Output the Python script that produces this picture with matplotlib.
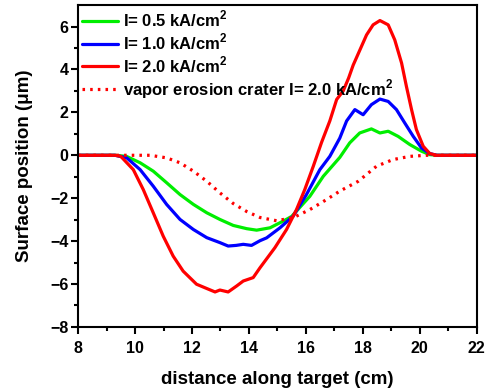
import matplotlib
matplotlib.use("Agg")
import matplotlib.pyplot as plt
import numpy as np

plt.rcParams['font.family'] = ['Liberation Sans', 'DejaVu Sans']
plt.rcParams['font.weight'] = 'bold'
plt.rcParams['mathtext.fontset'] = 'custom'
plt.rcParams['mathtext.rm'] = 'Liberation Sans:bold'
plt.rcParams['mathtext.bf'] = 'Liberation Sans:bold'

# I = 0.5 kA/cm2 (green)
x_g = [8, 9.3, 9.7, 10.18, 10.64, 11.11, 11.58, 12.05, 12.52, 12.98, 13.45, 13.92, 14.27, 14.74, 15.2,
       15.5, 15.67, 16.14, 16.61, 17.19, 17.54, 17.89, 18.3, 18.6, 18.89, 19.24, 19.65, 20.06, 20.35, 20.6, 22]
y_g = [0, 0, -0.05, -0.35, -0.74, -1.28, -1.83, -2.29, -2.68, -2.99, -3.27, -3.42, -3.49, -3.38, -3.07,
       -2.85, -2.6, -1.91, -0.98, -0.1, 0.58, 1.04, 1.23, 1.04, 1.12, 0.88, 0.5, 0.19, 0.03, 0, 0]

# I = 1.0 kA/cm2 (blue)
x_b = [8, 9.3, 9.71, 10.18, 10.64, 11.11, 11.58, 12.05, 12.52, 12.98, 13.27, 13.55, 13.8, 14.09, 14.39,
       14.62, 15.09, 15.55, 16.02, 16.49, 16.84, 17.19, 17.43, 17.72, 18.01, 18.3, 18.6, 18.89, 19.18,
       19.47, 19.77, 20.06, 20.35, 20.6, 22]
y_b = [0, 0, -0.12, -0.67, -1.44, -2.29, -2.99, -3.46, -3.84, -4.07, -4.23, -4.2, -4.15, -4.2, -3.98,
       -3.85, -3.38, -2.84, -1.83, -0.67, -0.05, 0.8, 1.6, 2.13, 1.89, 2.36, 2.62, 2.51, 2.13,
       1.51, 0.88, 0.34, 0.08, 0, 0]

# I = 2.0 kA/cm2 (red)
x_r = [8, 9.3, 9.5, 9.94, 10.29, 10.64, 10.99, 11.34, 11.69, 12.16, 12.52, 12.81, 12.98, 13.27, 13.57,
       13.8, 14.15, 14.39, 14.91, 15.32, 15.67, 15.96, 16.26, 16.55, 16.84, 17.08, 17.31, 17.5, 17.66,
       17.9, 18.13, 18.36, 18.6, 18.89, 19.12, 19.36, 19.53, 19.71, 19.88, 20.12, 20.35, 20.59, 22]
y_r = [0, 0, -0.05, -0.67, -1.6, -2.68, -3.77, -4.7, -5.4, -6.01, -6.21, -6.37, -6.28, -6.37, -6.09,
       -5.86, -5.7, -5.24, -4.31, -3.46, -2.53, -1.6, -0.51, 0.6, 1.6, 2.6, 3.0, 3.6, 4.2,
       4.92, 5.61, 6.08, 6.28, 6.08, 5.38, 4.3, 3.21, 2.13, 1.2, 0.42, 0.08, 0, 0]

# vapor erosion crater I = 2.0 kA/cm2 (red dotted)
x_v = [8, 10.53, 11.11, 11.58, 12.05, 12.52, 12.98, 13.45, 13.92, 14.39, 14.97, 15.55, 16.14, 16.73,
       17.19, 17.84, 18.48, 19.06, 19.65, 20.24, 22]
y_v = [0, 0, -0.12, -0.35, -0.74, -1.21, -1.75, -2.25, -2.62, -2.9, -3.05, -2.91, -2.53, -2.06,
       -1.67, -1.21, -0.51, -0.2, -0.05, 0, 0]

labels = ['I= 0.5 kA/cm$^{2}$', 'I= 1.0 kA/cm$^{2}$', 'I= 2.0 kA/cm$^{2}$',
          'vapor erosion crater I= 2.0 kA/cm$^{2}$']

fig = plt.figure(figsize=(4.91, 3.92), dpi=100)
ax = fig.add_axes([0.159, 0.166, 0.812, 0.821])

kw = dict(lw=2.3, solid_joinstyle='round', solid_capstyle='round')
ax.plot(x_g, y_g, color='#00ee00', label=labels[0], **kw)
ax.plot(x_b, y_b, color='#0000ff', label=labels[1], **kw)
ax.plot(x_r, y_r, color='#ff0000', label=labels[2], **kw)
ax.plot(x_v, y_v, color='#ff0000', lw=2.3, ls=(0, (0.8, 1.6)), label=labels[3])

ax.set_xlim(8, 22)
ax.set_ylim(-8, 7)
ax.set_xticks(np.arange(8, 23, 2))
ax.set_xticks(np.arange(9, 22, 2), minor=True)
ax.set_yticks(np.arange(-8, 7, 2))
ax.set_yticks(np.arange(-7, 7, 2), minor=True)
ax.tick_params(which='major', direction='out', length=5, width=1.5, labelsize=11.5)
ax.tick_params(axis='x', which='major', pad=5)
ax.tick_params(axis='y', which='major', pad=2)
ax.tick_params(which='minor', direction='out', length=3, width=1.5)
for lab in ax.get_xticklabels() + ax.get_yticklabels():
    lab.set_fontweight('bold')
for s in ax.spines.values():
    s.set_linewidth(1.5)

ax.set_xlabel('distance along target (cm)', fontsize=13.5, fontweight='bold', labelpad=11)
ax.set_ylabel('Surface position (μm)', fontsize=13.5, fontweight='bold', labelpad=12)

leg = ax.legend(loc='upper left', frameon=False, handlelength=2.15,
                handletextpad=0.3, labelspacing=0.12, borderaxespad=0.25,
                borderpad=0.0, prop={'weight': 'bold', 'size': 12})

fig.savefig('out.png', dpi=100)
